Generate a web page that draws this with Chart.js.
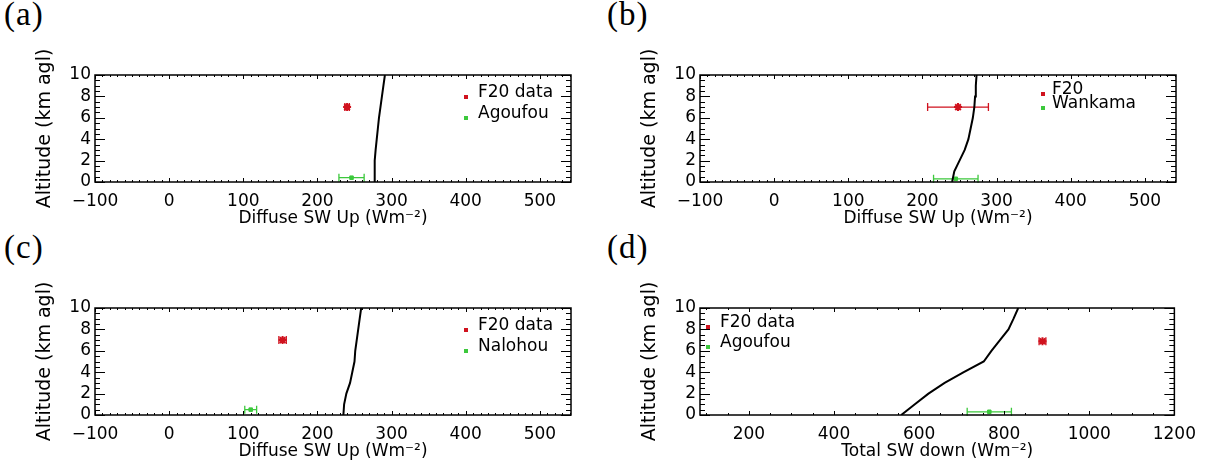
<!DOCTYPE html>
<html>
<head>
<meta charset="utf-8">
<script src="https://cdn.jsdelivr.net/npm/chart.js@4.4.1/dist/chart.umd.min.js"></script>
<style>
  body { margin:0; background:#fff; width:1214px; height:471px; position:relative; overflow:hidden; }
  .panneau { position:absolute; width:600px; height:235px; }
  .lettre { position:absolute; font-family:"Liberation Serif", serif; font-size:33px; color:#000; letter-spacing:1px; }
</style>
</head>
<body>
<div class="lettre" style="left:4px;top:-4px">(a)</div>
<div class="lettre" style="left:607px;top:-4px">(b)</div>
<div class="lettre" style="left:4px;top:229px">(c)</div>
<div class="lettre" style="left:607px;top:229px">(d)</div>

<div class="panneau" style="left:0;top:0"><canvas id="graphA"></canvas></div>
<div class="panneau" style="left:605px;top:0"><canvas id="graphB"></canvas></div>
<div class="panneau" style="left:0;top:233px"><canvas id="graphC"></canvas></div>
<div class="panneau" style="left:605px;top:233px"><canvas id="graphD"></canvas></div>

<script>
/********************/
/* Données globales */
/********************/
//Altitudes des profils modélisés (km agl)
var altitudesProfil = [0, 1, 2, 3, 4, 5, 6, 7, 8, 9, 10];
//Profils modélisés (W m-2) pour chaque panneau
var profilA = [277, 277, 277.5, 278.5, 280, 281.5, 283, 285, 287, 289, 291];
var profilB = [240, 243, 250, 257, 262, 265, 268, 270, 271, 272, 273];
var profilC = [235, 236, 239, 244, 247, 250, 251, 253, 255, 257, 259];
var profilD = [558, 590, 622, 660, 705, 752, 770, 790, 810, 822, 833];

//Mesures avion F20 (une par panneau a, b, c, d)
var legendeF20 = ['F20 data', 'F20', 'F20 data', 'F20 data'];
var f20Flux = [240, 248, 153, 890];
var f20Altitude = [7, 7, 7, 6.9];
var f20Erreur = [3, 41, 5, 8];

//Mesures au sol
var sitesSol = ['Agoufou', 'Wankama', 'Nalohou', 'Agoufou'];
var solFlux = [246, 245, 110, 765];
var solAltitude = [0.4, 0.3, 0.5, 0.3];
var solErreur = [17, 30, 8, 52];

//Graduations
var ticksXDiffus = [-100, 0, 100, 200, 300, 400, 500];
var ticksXTotal = [200, 400, 600, 800, 1000, 1200];
var ticksY = [0, 2, 4, 6, 8, 10];

//Titres des axes
var titresX = ['Diffuse SW Up (Wm\u207B\u00B2)', 'Diffuse SW Up (Wm\u207B\u00B2)',
               'Diffuse SW Up (Wm\u207B\u00B2)', 'Total SW down (Wm\u207B\u00B2)'];
var titreY = 'Altitude (km agl)';

var ROUGE = '#d0121e';
var VERT = '#3cc83c';
var POLICE = '"DejaVu Sans", sans-serif';

/*************************************************/
/* Plugin : cadre IDL, barres d'erreur, légende  */
/*************************************************/
var cadreIDL = {
    id: 'cadreIDL',
    beforeDatasetsDraw: function(chart) {
        var ctx = chart.ctx, sx = chart.scales.x, sy = chart.scales.y;
        chart.data.datasets.forEach(function(ds) {
            if (!ds.erreurX) return;
            ds.data.forEach(function(p, k) {
                var e = ds.erreurX[k];
                var y = sy.getPixelForValue(p.y);
                var x1 = sx.getPixelForValue(p.x - e);
                var x2 = sx.getPixelForValue(p.x + e);
                ctx.save();
                ctx.strokeStyle = ds.borderColor;
                ctx.lineWidth = 1.3;
                ctx.beginPath();
                ctx.moveTo(x1, y); ctx.lineTo(x2, y);
                ctx.moveTo(x1, y - 4); ctx.lineTo(x1, y + 4);
                ctx.moveTo(x2, y - 4); ctx.lineTo(x2, y + 4);
                ctx.stroke();
                ctx.restore();
            });
        });
    },
    afterDraw: function(chart, args, opts) {
        var ctx = chart.ctx, a = chart.chartArea, sx = chart.scales.x, sy = chart.scales.y;
        ctx.save();
        ctx.strokeStyle = '#000';
        ctx.lineWidth = 1.5;
        ctx.strokeRect(a.left, a.top, a.right - a.left, a.bottom - a.top);

        //Graduations vers l'intérieur (majeures et mineures)
        ctx.lineWidth = 1;
        ctx.beginPath();
        var debut = Math.ceil(sx.min / opts.mineurX);
        for (var k = debut; k * opts.mineurX <= sx.max; k++) {
            var v = k * opts.mineurX;
            var x = Math.round(sx.getPixelForValue(v)) + 0.5;
            var majeur = sx.ticks.some(function(t) { return Math.abs(t.value - v) < 1e-6; });
            var l = majeur ? 4 : 2;
            ctx.moveTo(x, a.bottom); ctx.lineTo(x, a.bottom - l);
            ctx.moveTo(x, a.top); ctx.lineTo(x, a.top + l);
        }
        for (var j = 0; j * opts.mineurY <= sy.max; j++) {
            var w = j * opts.mineurY;
            var y = Math.round(sy.getPixelForValue(w)) + 0.5;
            var maj = sy.ticks.some(function(t) { return Math.abs(t.value - w) < 1e-6; });
            var ly = maj ? 10 : 5;
            ctx.moveTo(a.left, y); ctx.lineTo(a.left + ly, y);
            ctx.moveTo(a.right, y); ctx.lineTo(a.right - ly, y);
        }
        ctx.stroke();

        //Légende dans le cadre
        var lg = opts.legende;
        ctx.font = '17px ' + POLICE;
        ctx.textBaseline = 'middle';
        ctx.textAlign = 'left';
        lg.textes.forEach(function(t, i) {
            var yy = a.top + lg.y + i * lg.dy;
            ctx.fillStyle = lg.couleurs[i];
            ctx.fillRect(a.left + lg.x - 2, yy + 2, 4, 4);
            ctx.fillStyle = '#000';
            ctx.fillText(t, a.left + lg.x + lg.ecart, yy);
        });
        ctx.restore();
    }
};

/**********************/
/* Création du graphe */
/**********************/
function creerPanneau(idCanvas, i, profil, bornesX, ticksX, mineurX, padDroite, legende) {
    var ctx = document.getElementById(idCanvas).getContext('2d');
    var pointsProfil = [];
    for (var k = 0; k < altitudesProfil.length; k++) {
        pointsProfil.push({ x: profil[k], y: altitudesProfil[k] });
    }
    return new Chart(ctx, {
        type: 'scatter',
        data: {
            datasets: [{
                label: 'profil',
                data: pointsProfil,
                showLine: true,
                borderColor: '#000',
                borderWidth: 2,
                pointRadius: 0,
                tension: 0
            }, {
                label: sitesSol[i],
                data: [{ x: solFlux[i], y: solAltitude[i] }],
                erreurX: [solErreur[i]],
                borderColor: VERT,
                backgroundColor: VERT,
                pointStyle: 'rect',
                pointRadius: 2.5
            }, {
                label: legendeF20[i],
                data: [{ x: f20Flux[i], y: f20Altitude[i] }],
                erreurX: [f20Erreur[i]],
                borderColor: ROUGE,
                backgroundColor: ROUGE,
                pointStyle: 'star',
                pointRadius: 4,
                borderWidth: 2
            }]
        },
        options: {
            animation: false,
            responsive: true,
            maintainAspectRatio: false,
            layout: { padding: { top: 75, right: padDroite, left: 0, bottom: 0 } },
            plugins: {
                legend: { display: false },
                tooltip: { enabled: false },
                cadreIDL: { mineurX: mineurX, mineurY: 0.5, legende: legende }
            },
            scales: {
                x: {
                    type: 'linear',
                    min: bornesX[0],
                    max: bornesX[1],
                    afterBuildTicks: function(s) { s.ticks = ticksX.map(function(v) { return { value: v }; }); },
                    afterFit: function(s) { s.height = 53; },
                    grid: { display: false, drawTicks: false },
                    border: { display: false },
                    ticks: {
                        padding: 9,
                        autoSkip: false,
                        color: '#000',
                        font: { family: POLICE, size: 17 },
                        maxRotation: 0,
                        callback: function(v) { return String(v).replace('-', '\u2212'); }
                    },
                    title: {
                        display: true,
                        text: titresX[i],
                        color: '#000',
                        font: { family: POLICE, size: 17 },
                        padding: { top: 0, bottom: 6 }
                    }
                },
                y: {
                    type: 'linear',
                    min: 0,
                    max: 10,
                    afterBuildTicks: function(s) { s.ticks = ticksY.map(function(v) { return { value: v }; }); },
                    afterFit: function(s) { s.width = 95; },
                    grid: { display: false, drawTicks: false },
                    border: { display: false },
                    ticks: {
                        padding: 4,
                        autoSkip: false,
                        color: '#000',
                        font: { family: POLICE, size: 17 }
                    },
                    title: {
                        display: true,
                        text: titreY,
                        color: '#000',
                        font: { family: POLICE, size: 19 },
                        padding: { top: 34, bottom: 0 }
                    }
                }
            }
        },
        plugins: [cadreIDL]
    });
}

document.addEventListener('DOMContentLoaded', function() {
    var legHaut = function(i) {
        return { x: 371, y: 18, dy: 21, ecart: 12, textes: [legendeF20[i], sitesSol[i]], couleurs: [ROUGE, VERT] };
    };
    creerPanneau('graphA', 0, profilA, [-100, 542], ticksXDiffus, 10, 29, legHaut(0));
    creerPanneau('graphB', 1, profilB, [-100, 542], ticksXDiffus, 10, 29,
        { x: 343, y: 15, dy: 14, ecart: 9, textes: [legendeF20[1], sitesSol[1]], couleurs: [ROUGE, VERT] });
    creerPanneau('graphC', 2, profilC, [-100, 542], ticksXDiffus, 10, 29, legHaut(2));
    creerPanneau('graphD', 3, profilD, [85, 1200], ticksXTotal, 50, 26,
        { x: 8, y: 15, dy: 20, ecart: 12, textes: [legendeF20[3], sitesSol[3]], couleurs: [ROUGE, VERT] });
});
</script>
</body>
</html>
